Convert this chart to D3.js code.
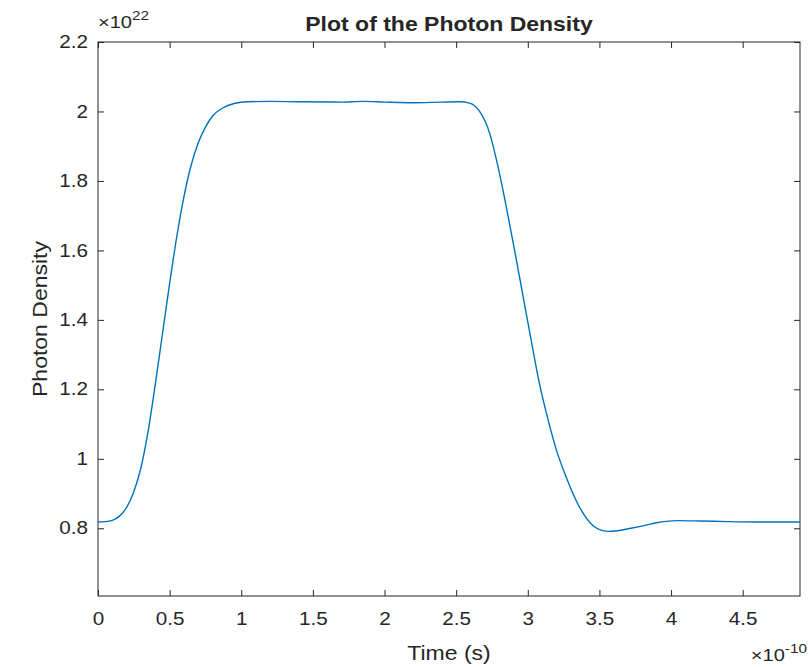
<!DOCTYPE html>
<html>
<head>
<meta charset="utf-8">
<script src="https://cdn.jsdelivr.net/npm/d3@7"></script>
<style>
  body { margin: 0; background: #fff; }
  text { font-family: "Liberation Sans", Arial, Helvetica, sans-serif; fill: #262626; }
</style>
</head>
<body>
<div id="chart"></div>
<script>
// time in units of 1e-10 s, density in units of 1e22
const timeVals = [0, 0.05, 0.1, 0.15, 0.2, 0.25, 0.3, 0.35, 0.4, 0.45, 0.5, 0.55, 0.6, 0.65, 0.7, 0.75, 0.8, 0.87, 0.95,
  1.05, 1.2, 1.4, 1.7, 1.85, 2.0, 2.2, 2.4, 2.52, 2.594, 2.664, 2.734, 2.792, 2.85, 2.908, 2.966, 3.024, 3.082,
  3.14, 3.2, 3.268, 3.361, 3.454, 3.5, 3.559, 3.63, 3.72, 3.826, 3.9, 3.966, 4.05, 4.2, 4.4, 4.6, 4.9];
const densityVals = [0.818, 0.819, 0.823, 0.835, 0.86, 0.905, 0.975, 1.08, 1.215, 1.36, 1.505, 1.64, 1.755, 1.845, 1.91, 1.955, 1.987, 2.01, 2.023,
  2.028, 2.029, 2.028, 2.027, 2.029, 2.027, 2.025, 2.027, 2.028, 2.024, 2.0, 1.937, 1.841, 1.725, 1.60, 1.47, 1.34, 1.215,
  1.115, 1.025, 0.947, 0.861, 0.808, 0.796, 0.791, 0.793, 0.8, 0.809, 0.816, 0.82, 0.822, 0.821, 0.819, 0.818, 0.818];
const xTicks = [0, 0.5, 1, 1.5, 2, 2.5, 3, 3.5, 4, 4.5];
const yTicks = [0.8, 1, 1.2, 1.4, 1.6, 1.8, 2, 2.2];

const W = 810, H = 667;
const margin = {top: 42, right: 10, bottom: 71, left: 98};
const width = W - margin.left - margin.right;
const height = H - margin.top - margin.bottom;
const sx = 1.18; // the reference font runs wider than Arial

const svg = d3.select("#chart").append("svg")
  .attr("width", W)
  .attr("height", H);

const g = svg.append("g")
  .attr("transform", `translate(${margin.left},${margin.top})`);

const x = d3.scaleLinear().domain([0, 4.9]).range([0, width]);
const y = d3.scaleLinear().domain([0.605, 2.2]).range([height, 0]);

const fmt = d => d3.format("~g")(d);

function styleAxis(sel, labels) {
  sel.select(".domain").remove();
  sel.selectAll(".tick line").attr("stroke", "#262626").attr("stroke-width", 1);
  sel.selectAll(".tick text").attr("font-size", "17.5px").attr("fill", "#262626");
  if (!labels) sel.selectAll(".tick text").remove();
}

// bottom + top
const xb = g.append("g")
  .attr("transform", `translate(0,${height})`)
  .call(d3.axisBottom(x).tickValues(xTicks).tickFormat(fmt).tickSizeInner(-6).tickSizeOuter(0).tickPadding(17));
styleAxis(xb, true);
xb.selectAll(".tick text").attr("transform", `scale(${sx},1)`);

const xt = g.append("g")
  .call(d3.axisTop(x).tickValues(xTicks).tickSizeInner(-6).tickSizeOuter(0));
styleAxis(xt, false);

// left + right
const yl = g.append("g")
  .call(d3.axisLeft(y).tickValues(yTicks).tickFormat(fmt).tickSizeInner(-6).tickSizeOuter(0).tickPadding(0));
styleAxis(yl, true);
yl.selectAll(".tick text")
  .attr("x", -10 / sx)
  .attr("transform", `scale(${sx},1)`);

const yr = g.append("g")
  .attr("transform", `translate(${width},0)`)
  .call(d3.axisRight(y).tickValues(yTicks).tickSizeInner(-6).tickSizeOuter(0));
styleAxis(yr, false);

// box
g.append("rect")
  .attr("width", width)
  .attr("height", height)
  .attr("fill", "none")
  .attr("stroke", "#262626")
  .attr("stroke-width", 1);

// curve
const pts = timeVals.map((t, i) => [t, densityVals[i]]);
g.append("path")
  .datum(pts)
  .attr("fill", "none")
  .attr("stroke", "#0072BD")
  .attr("stroke-width", 1.4)
  .attr("d", d3.line().x(d => x(d[0])).y(d => y(d[1])).curve(d3.curveMonotoneX));

// title
svg.append("text")
  .attr("transform", `translate(${margin.left + width / 2},31) scale(${sx},1)`)
  .attr("text-anchor", "middle")
  .attr("font-size", "19.5px")
  .attr("font-weight", "bold")
  .attr("fill", "#000")
  .text("Plot of the Photon Density");

// axis labels
svg.append("text")
  .attr("transform", `translate(${margin.left + width / 2},660) scale(${sx},1)`)
  .attr("text-anchor", "middle")
  .attr("font-size", "19.5px")
  .text("Time (s)");

svg.append("text")
  .attr("transform", `translate(47,${margin.top + height / 2}) rotate(-90) scale(${sx},1)`)
  .attr("text-anchor", "middle")
  .attr("font-size", "19.5px")
  .text("Photon Density");

// exponents
const e1 = svg.append("text")
  .attr("transform", `translate(${margin.left},28) scale(${sx},1)`)
  .attr("font-size", "17px");
e1.append("tspan").text("\u00d710");
e1.append("tspan").attr("dy", -8).attr("font-size", "13px").text("22");

const e2 = svg.append("text")
  .attr("transform", `translate(${W - 3},661) scale(${sx},1)`)
  .attr("text-anchor", "end")
  .attr("font-size", "17px");
e2.append("tspan").text("\u00d710");
e2.append("tspan").attr("dy", -8).attr("font-size", "13px").text("-10");
</script>
</body>
</html>
